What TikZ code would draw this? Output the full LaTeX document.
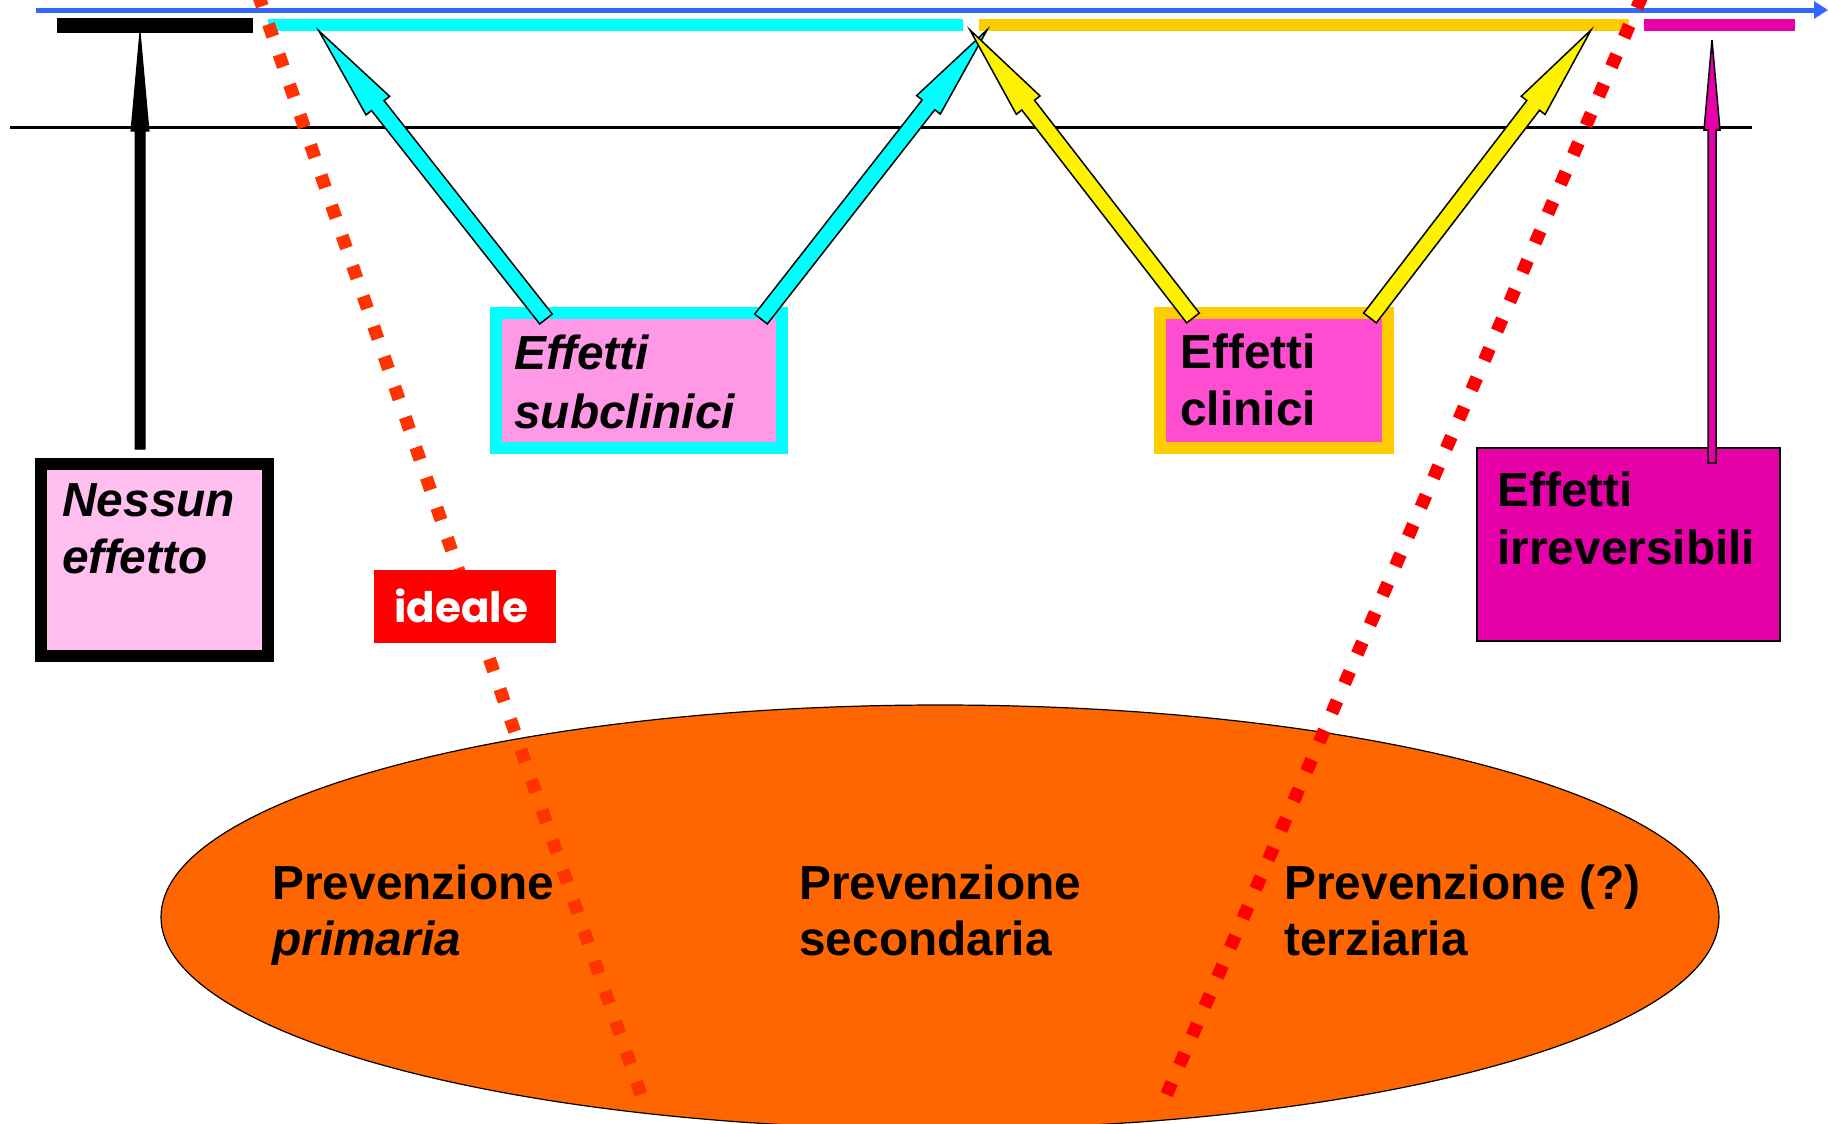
\documentclass[tikz,border=0pt]{standalone}
\usepackage{fontspec}
\setmainfont{Liberation Sans}
\newfontfamily\comicfont{Poppins}
\usetikzlibrary{calc,shapes.geometric,arrows.meta}
\definecolor{tlblue}{RGB}{51,102,255}
\definecolor{purecyan}{RGB}{0,255,255}
\definecolor{nessfill}{RGB}{255,192,240}
\definecolor{subfill}{RGB}{255,153,230}
\definecolor{clinfill}{RGB}{255,77,210}
\definecolor{irrfill}{RGB}{230,0,168}
\definecolor{gold}{RGB}{255,204,0}
\definecolor{ellfill}{RGB}{255,102,0}
\definecolor{dotorange}{RGB}{255,51,0}
\newcommand\blockarr[6]{%
  \coordinate (bh) at ($(#3)!#6!(#2)$);
  \draw[#1] ($(#2)!#4!90:(#3)$) -- ($(bh)!#4!90:(#3)$) -- ($(bh)!#5!90:(#3)$) -- (#3)
    -- ($(bh)!#5!-90:(#3)$) -- ($(bh)!#4!-90:(#3)$) -- ($(#2)!#4!-90:(#3)$) -- cycle;}
\tikzset{
  txt/.style={anchor=base west, inner sep=0pt, font=\fontsize{23.9pt}{28pt}\selectfont\bfseries},
  itxt/.style={txt, font=\fontsize{23.9pt}{28pt}\selectfont\bfseries\itshape},
  bar/.style={line width=6pt},
  dotline/.style={line width=6.5pt, dash pattern=on 6.5pt off 9.5pt},
  boxn/.style={inner sep=0pt, outer sep=0pt}
}
\begin{document}
\begin{tikzpicture}[x=0.5pt,y=-0.5pt]
\useasboundingbox (0,0) rectangle (1828,1124);
% ellipse
\node[boxn, ellipse, draw=black, line width=0.6pt, fill=ellfill, minimum width=779pt, minimum height=212pt] (ell) at (940,917) {};
% timeline
\coordinate (tl0) at (36,10);
\coordinate (tl1) at (1828,10);
\draw[tlblue, line width=2.5pt, -{Triangle[length=7pt,width=8.5pt]}] (tl0) -- (tl1);
\draw[black, line width=7.5pt] (57,25) -- (253,25);
\draw[purecyan, bar] (268,25) -- (963,25);
\draw[gold, bar] (979,25) -- (1629,25);
\draw[irrfill, bar] (1644,25) -- (1795,25);
% thin line
\draw[black, line width=1.5pt] (10,127) -- (1752,127);
% dotted lines
\draw[dotorange, dotline] (258,-6) -- (645,1106);
\draw[red, dotline] (1642,-4) -- (1160,1110);
% boxes
\node[boxn, draw=black, line width=6pt, fill=nessfill, minimum width=113.5pt, minimum height=96pt] (nes) at (154.5,560) {};
\node[boxn, draw=purecyan, line width=6pt, fill=subfill, minimum width=143.25pt, minimum height=67.25pt] (sub) at (638.75,380.25) {};
\node[boxn, draw=gold, line width=6pt, fill=clinfill, minimum width=113.75pt, minimum height=67.25pt] (clin) at (1273.75,380.25) {};
\node[boxn, draw=black, line width=1pt, fill=irrfill, minimum width=151.5pt, minimum height=96.5pt] (irr) at (1628.5,544.5) {};
% texts
\node[itxt] (nes1) at (62,516) {Nessun};
\node[itxt] (nes2) at (62,573) {effetto};
\node[itxt] (sub1) at (514,369) {Effetti};
\node[itxt] (sub2) at (514,428) {subclinici};
\node[txt] (clin1) at (1180,368) {Effetti};
\node[txt] (clin2) at (1180,425) {clinici};
\node[txt] (irr1) at (1497,506) {Effetti};
\node[txt] (irr2) at (1497,564) {irreversibili};
\node[txt] (pp1) at (272,899) {Prevenzione};
\node[itxt] (pp2) at (272,955) {primaria};
\node[txt] (ps1) at (799,899) {Prevenzione};
\node[txt] (ps2) at (799,955) {secondaria};
\node[txt] (pt1) at (1284,899) {Prevenzione (?)};
\node[txt] (pt2) at (1284,955) {terziaria};
% arrow endpoints
\coordinate (aN0) at (140,449);  \coordinate (aN1) at (140,31);
\coordinate (aS0) at (546,319);  \coordinate (aS1) at (319,31);
\coordinate (aS2) at (761,319);  \coordinate (aS3) at (987,30);
\coordinate (aC0) at (1193,318); \coordinate (aC1) at (970,30);
\coordinate (aC2) at (1370,318); \coordinate (aC3) at (1591,30);
\coordinate (aI0) at (1712,463); \coordinate (aI1) at (1712,40);
\blockarr{fill=black, draw=black, line width=0.5pt}{aN0}{aN1}{2.5pt}{4.5pt}{50pt}
\blockarr{fill=purecyan, draw=black, line width=0.75pt, line join=miter}{aS0}{aS1}{4pt}{7.5pt}{47.5pt}
\blockarr{fill=purecyan, draw=black, line width=0.75pt, line join=miter}{aS2}{aS3}{4pt}{7.5pt}{47.5pt}
\blockarr{fill=yellow, draw=black, line width=0.75pt, line join=miter}{aC0}{aC1}{4pt}{7.5pt}{47.5pt}
\blockarr{fill=yellow, draw=black, line width=0.75pt, line join=miter}{aC2}{aC3}{4pt}{7.5pt}{47.5pt}
\blockarr{fill=irrfill, draw=black, line width=0.75pt}{aI0}{aI1}{2pt}{4pt}{45pt}
% ideale
\node[boxn, fill=red, minimum width=91pt, minimum height=36.5pt] (ide) at (465,606.5) {};
\node[anchor=base west, inner sep=0pt, text=white, font=\comicfont\bfseries\fontsize{21pt}{24pt}\selectfont] (idet) at (394,622) {ideale};
\end{tikzpicture}
\end{document}
